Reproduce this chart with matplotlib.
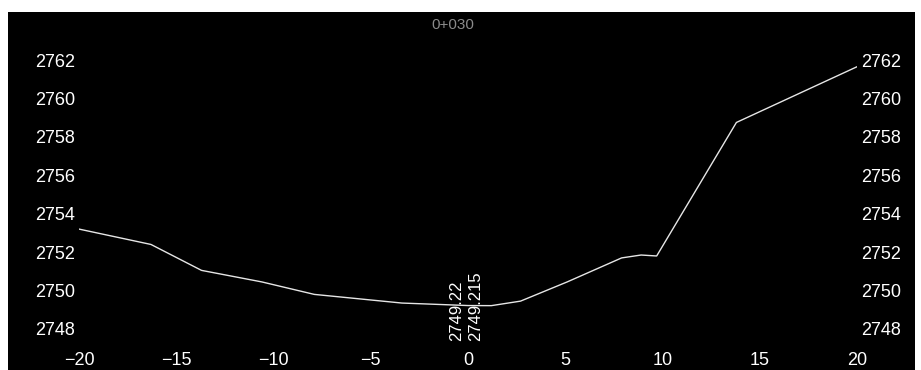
import matplotlib.pyplot as plt
from matplotlib.patches import Rectangle

# 横断面 0+030：地面线
offsets = [-20, -16.3, -13.7, -10.6, -7.9, -6.4, -3.4, 0, 1.2, 2.7, 5.1, 7.9, 8.9, 9.7, 13.8, 20]
elevations = [2753.2, 2752.4, 2751.05, 2750.45, 2749.8, 2749.65, 2749.35, 2749.22, 2749.215,
              2749.45, 2750.45, 2751.7, 2751.85, 2751.8, 2758.75, 2761.65]
station = "0+030"
center_labels = [(0, 2749.22), (1.2, 2749.215)]
x_ticks = [-20, -15, -10, -5, 0, 5, 10, 15, 20]
y_ticks = [2748, 2750, 2752, 2754, 2756, 2758, 2760, 2762]

plt.rcParams['font.family'] = ['Liberation Sans', 'DejaVu Sans']

fig = plt.figure(figsize=(9.21, 3.70), dpi=100, facecolor='white')
# 黑色底板
fig.patches.append(Rectangle((8 / 921, 0), 907 / 921, 358 / 370, transform=fig.transFigure,
                             facecolor='black', edgecolor='none', zorder=-10))

ax = fig.add_axes([79 / 921, 21.8 / 370, 778 / 921, 307.4 / 370])
ax.set_facecolor('black')
ax.plot(offsets, elevations, color='#e6e6e6', lw=1.0)

ax.set_xlim(-20, 20)
ax.set_ylim(2747, 2763)
ax.set_xticks(x_ticks)
ax.set_yticks(y_ticks)
for s in ax.spines.values():
    s.set_visible(False)
ax.tick_params(colors='white', labelcolor='white', length=0, labelsize=13,
               labelright=True, pad=3)

# 中桩高程标注
label_x = [-0.6, 0.4]
for (xv, yv), lx in zip(center_labels, label_x):
    ax.text(lx, 2747.35, str(yv), rotation=90, color='white', fontsize=12,
            ha='center', va='bottom')

fig.text(453 / 921, 1 - 25 / 370, station, color='#8a8a8a', fontsize=11,
         ha='center', va='center')

fig.savefig('out.png', dpi=100, facecolor=fig.get_facecolor())
